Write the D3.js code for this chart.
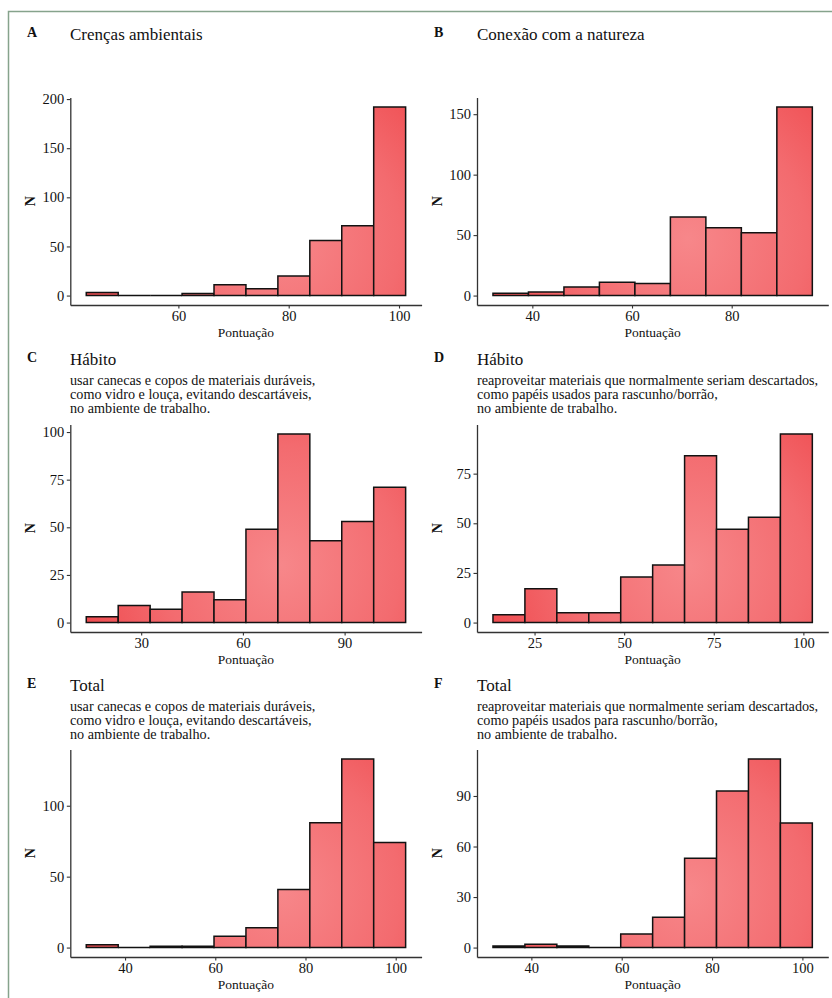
<!DOCTYPE html>
<html>
<head>
<meta charset="utf-8">
<script src="https://cdn.jsdelivr.net/npm/d3@7"></script>
<style>
  html, body { margin: 0; padding: 0; background: #fff; }
  svg { display: block; }
  text { font-family: 'Liberation Serif', 'Times New Roman', serif; fill: #111; }
</style>
</head>
<body>
<svg id="chart" width="832" height="998"></svg>
<script>
// ---------- DATA ----------
const panelLetters = ["A", "B", "C", "D", "E", "F"];
const panelTitles = ["Crenças ambientais", "Conexão com a natureza", "Hábito", "Hábito", "Total", "Total"];
const subtitleCanecas = [
  "usar canecas e copos de materiais duráveis,",
  "como vidro e louça, evitando descartáveis,",
  "no ambiente de trabalho."
];
const subtitlePapeis = [
  "reaproveitar materiais que normalmente seriam descartados,",
  "como papéis usados para rascunho/borrão,",
  "no ambiente de trabalho."
];
const panelSubtitles = [[], [], subtitleCanecas, subtitlePapeis, subtitleCanecas, subtitlePapeis];

// histogram counts per bin
const countsA = [3, 0, 0, 2, 11, 7, 20, 56, 71, 192];
const countsB = [2, 3, 7, 11, 10, 65, 56, 52, 156];
const countsC = [3, 9, 7, 16, 12, 49, 99, 43, 53, 71];
const countsD = [4, 17, 5, 5, 23, 29, 84, 47, 53, 95];
const countsE = [2, 0, 1, 1, 8, 14, 41, 88, 133, 74];
const countsF = [1, 2, 1, 0, 8, 18, 53, 93, 112, 74];
const panelCounts = [countsA, countsB, countsC, countsD, countsE, countsF];

// left edge of first bin and bin width (score units)
const binStart = [43.3, 32.1, 13.8, 13.4, 31.4, 31.5];
const binWidth = [5.79, 7.12, 9.42, 8.91, 7.08, 7.07];

// tick labels
const xTicks = [[60, 80, 100], [40, 60, 80], [30, 60, 90], [25, 50, 75, 100], [40, 60, 80, 100], [40, 60, 80, 100]];
const yTicks = [[0, 50, 100, 150, 200], [0, 50, 100, 150], [0, 25, 50, 75, 100], [0, 25, 50, 75], [0, 50, 100], [0, 30, 60, 90]];

const xLabel = "Pontuação";
const yLabel = "N";

// ---------- LAYOUT ----------
const colX = [[70.3, 421.6], [477, 828.3]];
const rowY = [[97.5, 305], [424.5, 632], [749.5, 957]];
const titleBase = [40, 365, 691];
const letterX = [27, 434];
const titleX = [70, 477];

const svg = d3.select("#chart");

// figure border
svg.append("path")
  .attr("d", "M8.5,998 L8.5,11.5 L832,11.5")
  .attr("fill", "none").attr("stroke", "#86a38c").attr("stroke-width", 1.5);

const defs = svg.append("defs");

panelCounts.forEach((counts, i) => {
  const col = i % 2, row = Math.floor(i / 2);
  const [x0, x1] = colX[col];
  const [yTop, yBot] = rowY[row];
  const n = counts.length;
  const start = binStart[i], w = binWidth[i];
  const end = start + n * w;
  const span = end - start;
  const maxC = d3.max(counts);

  const x = d3.scaleLinear().domain([start - 0.05 * span, end + 0.05 * span]).range([x0, x1]);
  const y = d3.scaleLinear().domain([-0.05 * maxC, 1.05 * maxC]).range([yBot, yTop]);

  const g = svg.append("g");

  // gradient
  const gid = "grad" + i;
  const grad = defs.append("radialGradient").attr("id", gid)
    .attr("gradientUnits", "userSpaceOnUse")
    .attr("cx", x0 + (x1 - x0) * 0.6).attr("cy", yTop + (yBot - yTop) * 0.68)
    .attr("r", (x1 - x0) * 0.62);
  grad.append("stop").attr("offset", "0%").attr("stop-color", "#f7878a");
  grad.append("stop").attr("offset", "55%").attr("stop-color", "#f36b6f");
  grad.append("stop").attr("offset", "100%").attr("stop-color", "#ef474b");

  // bars
  const bins = counts.map((c, k) => ({ lo: start + k * w, hi: start + (k + 1) * w, c }));
  g.selectAll("path.bar").data(bins).join("path")
    .attr("class", "bar")
    .attr("d", d => {
      const p = d3.path();
      p.moveTo(x(d.lo), y(0));
      p.lineTo(x(d.lo), y(d.c));
      p.lineTo(x(d.hi), y(d.c));
      p.lineTo(x(d.hi), y(0));
      p.closePath();
      return p.toString();
    })
    .attr("fill", `url(#${gid})`)
    .attr("stroke", "#121212")
    .attr("stroke-width", 1.5)
    .attr("stroke-linejoin", "miter");

  // axes
  const xAxis = g.append("g").attr("transform", `translate(0,${yBot})`)
    .call(d3.axisBottom(x).tickValues(xTicks[i]).tickSize(3.5).tickSizeOuter(0).tickPadding(2.5));
  const yAxis = g.append("g").attr("transform", `translate(${x0},0)`)
    .call(d3.axisLeft(y).tickValues(yTicks[i]).tickSize(3.5).tickSizeOuter(0).tickPadding(2.5));
  [xAxis, yAxis].forEach(a => {
    a.select(".domain").attr("stroke", "#333").attr("stroke-width", 1.3);
    a.selectAll(".tick line").attr("stroke", "#333").attr("stroke-width", 1.1);
    a.selectAll(".tick text").attr("font-family", "'Liberation Serif', 'Times New Roman', serif")
      .attr("font-size", 14.5).attr("fill", "#1a1a1a");
  });

  // axis titles
  g.append("text").attr("x", (x0 + x1) / 2).attr("y", yBot + 31.5)
    .attr("text-anchor", "middle").attr("font-size", 13.5).text(xLabel);
  g.append("text")
    .attr("transform", `translate(${x0 - 35},${(yTop + yBot) / 2}) rotate(-90)`)
    .attr("text-anchor", "middle").attr("font-size", 14).attr("font-weight", "bold").text(yLabel);

  // panel letter and titles
  const tb = titleBase[row];
  g.append("text").attr("x", letterX[col]).attr("y", tb - 3)
    .attr("font-size", 14).attr("font-weight", "bold").text(panelLetters[i]);
  g.append("text").attr("x", titleX[col]).attr("y", tb)
    .attr("font-size", 17).text(panelTitles[i]);
  panelSubtitles[i].forEach((s, k) => {
    g.append("text").attr("x", titleX[col]).attr("y", tb + 19.5 + k * 14.3)
      .attr("font-size", 14.2).text(s);
  });
});
</script>
</body>
</html>
